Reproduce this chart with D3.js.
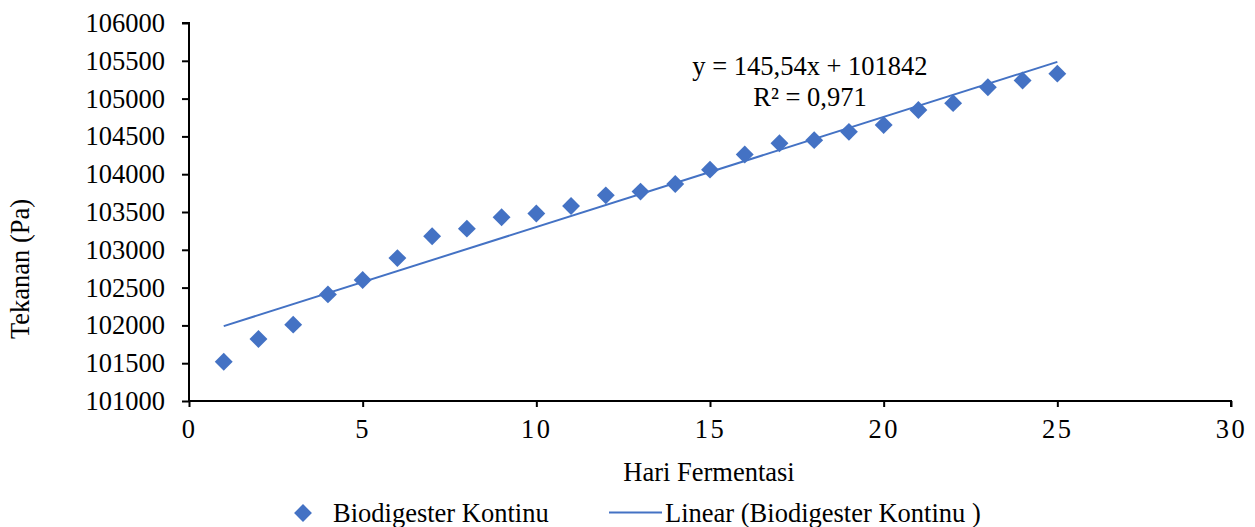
<!DOCTYPE html>
<html>
<head>
<meta charset="utf-8">
<script src="https://cdn.jsdelivr.net/npm/d3@7"></script>
<style>
  body { margin: 0; background: #fff; }
  svg text { font-family: "Liberation Serif", "Times New Roman", serif; fill: #000; }
</style>
</head>
<body>
<div id="chart"></div>
<script>
// hari fermentasi (day) and tekanan (Pa)
const days = [1, 2, 3, 4, 5, 6, 7, 8, 9, 10, 11, 12, 13, 14, 15, 16, 17, 18, 19, 20, 21, 22, 23, 24, 25];
const pressure = [101520, 101820, 102010, 102410, 102600, 102890, 103180, 103280, 103430, 103480,
  103580, 103720, 103770, 103870, 104060, 104260, 104410, 104450, 104560, 104650,
  104850, 104940, 105150, 105240, 105330];
const xTicks = [0, 5, 10, 15, 20, 25, 30];
const yTicks = [101000, 101500, 102000, 102500, 103000, 103500, 104000, 104500, 105000, 105500, 106000];
const seriesName = "Biodigester Kontinu";
const trendName = "Linear (Biodigester Kontinu )";
const eqLines = ["y = 145,54x + 101842", "R\u00b2 = 0,971"];

const W = 1255, H = 527;
const blue = "#4472C4";
const fs = 26.5;

const svg = d3.select("#chart").append("svg")
  .attr("width", W).attr("height", H);

const x = d3.scaleLinear().domain([0, 30]).range([189, 1231]);
const y = d3.scaleLinear().domain([101000, 106000]).range([401, 23]);

// least squares trend line from the points
const n = days.length;
const mx = d3.mean(days), my = d3.mean(pressure);
let sxy = 0, sxx = 0;
for (let i = 0; i < n; i++) {
  sxy += (days[i] - mx) * (pressure[i] - my);
  sxx += (days[i] - mx) * (days[i] - mx);
}
const slope = sxy / sxx, icept = my - slope * mx;
const x0 = d3.min(days), x1 = d3.max(days);

// axes
const yAxis = svg.append("g")
  .attr("transform", `translate(${x(0)},0)`)
  .call(d3.axisLeft(y).tickValues(yTicks).tickSize(7).tickPadding(17).tickFormat(d3.format("d")));
const xAxis = svg.append("g")
  .attr("transform", `translate(0,${y(101000)})`)
  .call(d3.axisBottom(x).tickValues(xTicks).tickSize(6).tickPadding(12));

[yAxis, xAxis].forEach(g => {
  g.select(".domain").attr("stroke", "#000").attr("stroke-width", 2);
  g.selectAll(".tick line").attr("stroke", "#000").attr("stroke-width", 2);
  g.selectAll(".tick text").attr("font-size", fs).attr("font-family", "Liberation Serif").attr("fill", "#000");
});
yAxis.select(".domain").attr("d", `M-7,${y(106000)}H0V${y(101000)}`);
xAxis.select(".domain").attr("d", `M${x(0)},0H${x(30)}V6`);
xAxis.selectAll(".tick text").attr("letter-spacing", "2.5px").attr("dy", "0.7em");

// trend line
svg.append("line")
  .attr("x1", x(x0)).attr("y1", y(icept + slope * x0))
  .attr("x2", x(x1)).attr("y2", y(icept + slope * x1))
  .attr("stroke", blue).attr("stroke-width", 2);

// points
const diamond = d3.symbol().type(d3.symbolSquare).size(160);
svg.append("g").selectAll("path")
  .data(days.map((d, i) => [d, pressure[i]]))
  .join("path")
  .attr("d", diamond)
  .attr("transform", d => `translate(${x(d[0])},${y(d[1])}) rotate(45)`)
  .attr("fill", blue);

// equation label
svg.append("g").selectAll("text")
  .data(eqLines)
  .join("text")
  .attr("x", 810).attr("y", (d, i) => 75 + i * 30.5)
  .attr("text-anchor", "middle").attr("font-size", fs)
  .text(d => d);

// axis titles
svg.append("text")
  .attr("x", 709).attr("y", 481)
  .attr("text-anchor", "middle").attr("font-size", fs)
  .text("Hari Fermentasi");
svg.append("text")
  .attr("transform", "translate(29,269) rotate(-90)")
  .attr("text-anchor", "middle").attr("font-size", fs)
  .text("Tekanan (Pa)");

// legend
const leg = svg.append("g");
leg.append("path")
  .attr("d", diamond)
  .attr("transform", "translate(303,513) rotate(45)")
  .attr("fill", blue);
leg.append("text").attr("x", 333).attr("y", 522).attr("font-size", fs).text(seriesName);
leg.append("line")
  .attr("x1", 609).attr("x2", 662).attr("y1", 512.5).attr("y2", 512.5)
  .attr("stroke", blue).attr("stroke-width", 2);
leg.append("text").attr("x", 665).attr("y", 522).attr("font-size", fs).text(trendName);
</script>
</body>
</html>
